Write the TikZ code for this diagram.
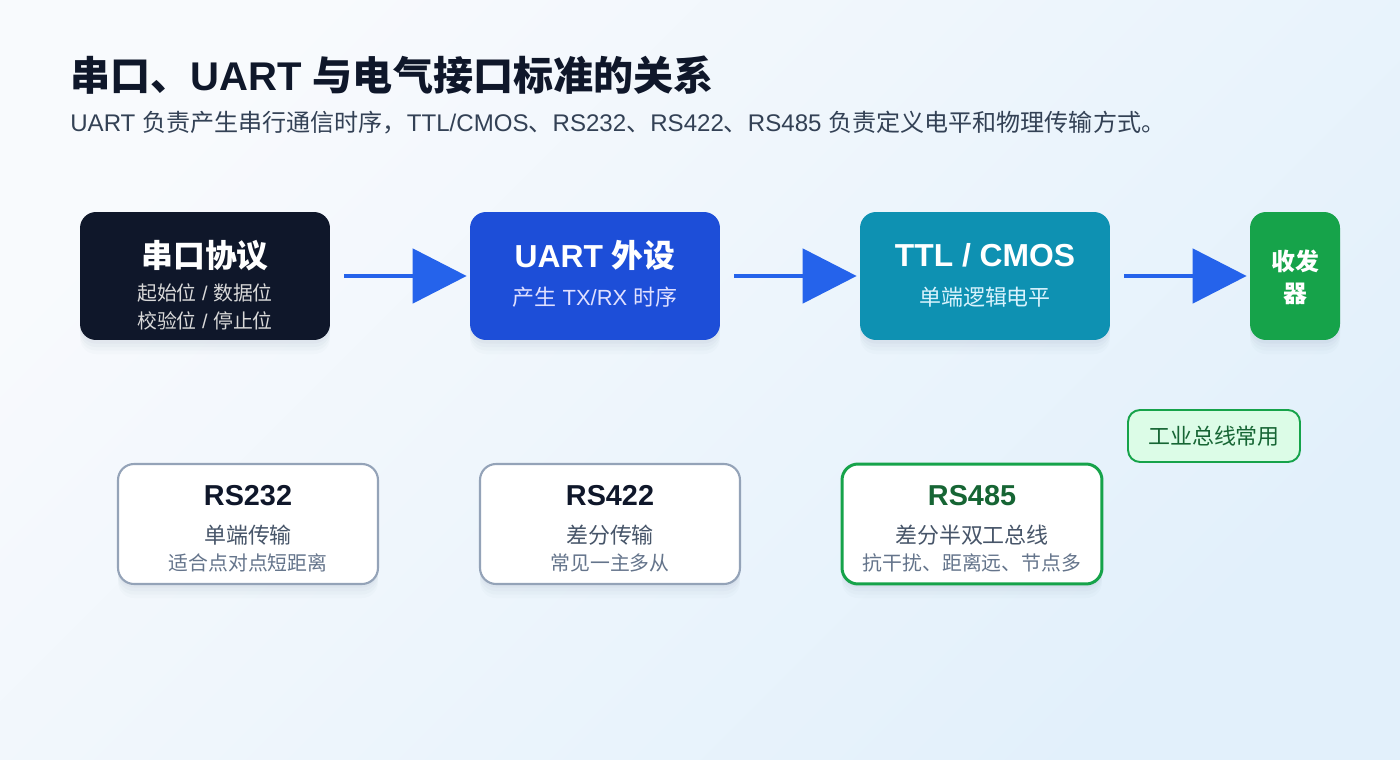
\documentclass[tikz,border=0pt]{standalone}
\usepackage{fontspec}
\setmainfont{Liberation Sans}
\newfontfamily\cjk{Noto Sans CJK SC}
\newcommand{\zh}[1]{{\cjk #1}}
\usetikzlibrary{arrows.meta}

\definecolor{bgtop}{HTML}{F8FAFD}
\definecolor{bgbot}{HTML}{E2F0FB}
\definecolor{ink}{HTML}{0F172A}
\definecolor{slate}{HTML}{334155}
\definecolor{slatemid}{HTML}{475569}
\definecolor{slatelow}{HTML}{64748B}
\definecolor{edge}{HTML}{94A3B8}
\definecolor{protocol}{HTML}{0F172A}
\definecolor{uart}{HTML}{1D4ED8}
\definecolor{ttl}{HTML}{0E91B2}
\definecolor{xcvr}{HTML}{16A34A}
\definecolor{flow}{HTML}{2563EB}
\definecolor{darkgreen}{HTML}{166534}
\definecolor{paleGreen}{HTML}{DCFCE7}
\definecolor{shadowblue}{HTML}{1E3A5F}

\tikzset{
  softshadow/.style={
          preaction={fill=shadowblue, opacity=0.03, transform canvas={yshift=-2pt}},
          preaction={fill=shadowblue, opacity=0.025, transform canvas={yshift=-4pt}},
          preaction={fill=shadowblue, opacity=0.02, transform canvas={yshift=-6pt}},
          preaction={fill=shadowblue, opacity=0.015, transform canvas={yshift=-8pt}}},
  stage/.style={rectangle, rounded corners=0.32cm, inner sep=0pt,
          minimum width=5cm, minimum height=2.56cm, softshadow},
  stdbox/.style={rectangle, rounded corners=0.32cm, inner sep=0pt, fill=white,
          draw=edge, line width=1.2pt,
          minimum width=5.2cm, minimum height=2.4cm, softshadow},
  flowarrow/.style={flow, line width=2.8pt,
          -{Triangle[length=1.08cm, width=1.08cm]}},
  stagetitle/.style={font=\fontsize{18.1}{21}\selectfont\bfseries, text=white},
  stagesub/.style={font=\fontsize{12.5}{15}\selectfont},
  stdtitle/.style={font=\fontsize{16.4}{19}\selectfont\bfseries, text=ink},
  stdmain/.style={font=\fontsize{12.5}{15}\selectfont, text=slatemid},
  stdnote/.style={font=\fontsize{11.3}{13}\selectfont, text=slatelow}
}

\begin{document}
\begin{tikzpicture}[x=0.02cm,y=-0.02cm]
% background
\shade[top color=bgtop, bottom color=bgbot, shading angle=45]
      (0,0) rectangle (1400,760);
\useasboundingbox (0,0) rectangle (1400,760);

% heading
\node[anchor=base west, text=ink, font=\fontsize{22.8}{27}\selectfont\bfseries, inner sep=0pt]
      (title) at (70,91) {\zh{串口、}UART \zh{与电气接口标准的关系}};
\node[anchor=base west, text=slate, font=\fontsize{13.7}{16}\selectfont, inner sep=0pt]
      (subtitle) at (70,132)
      {UART \zh{负责产生串行通信时序，}TTL/CMOS\zh{、}RS232\zh{、}RS422\zh{、}RS485 \zh{负责定义电平和物理传输方式。}};

% top chain
\node[stage, fill=protocol] (proto) at (205,276) {};
\node[stage, fill=uart] (uart) at (595,276) {};
\node[stage, fill=ttl] (ttl) at (985,276) {};
\node[stage, fill=xcvr, minimum width=1.8cm] (xcvr) at (1295,276) {};

\node[stagetitle] (protoT) at (205,256) {\zh{串口协议}};
\node[stagesub, font=\fontsize{11.3}{13}\selectfont, text=black!15!white] (protoA) at (205,293) {\zh{起始位} / \zh{数据位}};
\node[stagesub, font=\fontsize{11.3}{13}\selectfont, text=black!15!white] (protoB) at (205,321) {\zh{校验位} / \zh{停止位}};

\node[stagetitle] (uartT) at (595,255) {UART \zh{外设}};
\node[stagesub, text=blue!12!white] (uartA) at (595,297) {\zh{产生} TX/RX \zh{时序}};

\node[stagetitle] (ttlT) at (985,255) {TTL / CMOS};
\node[stagesub, text=cyan!15!white] (ttlA) at (985,297) {\zh{单端逻辑电平}};

\node[text=white, font=\fontsize{13.6}{18}\selectfont\bfseries, align=center]
      (xcvrT) at (1295,277) {\zh{收发}\\\zh{器}};

\draw[flowarrow] ([xshift=0.28cm]proto.east) -- ([xshift=-0.06cm]uart.west);
\draw[flowarrow] ([xshift=0.28cm]uart.east) -- ([xshift=-0.06cm]ttl.west);
\draw[flowarrow] ([xshift=0.28cm]ttl.east) -- ([xshift=-0.06cm]xcvr.west);

% electrical standards
\node[stdbox] (rs232) at (248,524) {};
\node[stdbox] (rs422) at (610,524) {};
\node[stdbox, draw=xcvr, line width=1.7pt] (rs485) at (972,524) {};

\node[stdtitle] (rs232T) at (248,496) {RS232};
\node[stdmain] (rs232A) at (248,535) {\zh{单端传输}};
\node[stdnote] (rs232B) at (248,563) {\zh{适合点对点短距离}};

\node[stdtitle] (rs422T) at (610,496) {RS422};
\node[stdmain] (rs422A) at (610,535) {\zh{差分传输}};
\node[stdnote] (rs422B) at (610,563) {\zh{常见一主多从}};

\node[stdtitle, text=darkgreen] (rs485T) at (972,496) {RS485};
\node[stdmain] (rs485A) at (972,535) {\zh{差分半双工总线}};
\node[stdnote] (rs485B) at (972,563) {\zh{抗干扰、距离远、节点多}};

\node[rectangle, rounded corners=0.24cm, fill=paleGreen, draw=xcvr, line width=1.1pt,
      minimum width=3.44cm, minimum height=1.04cm, inner sep=0pt,
      text=darkgreen, font=\fontsize{12.5}{15}\selectfont]
      (tag) at (1214,436) {\zh{工业总线常用}};
\end{tikzpicture}
\end{document}
